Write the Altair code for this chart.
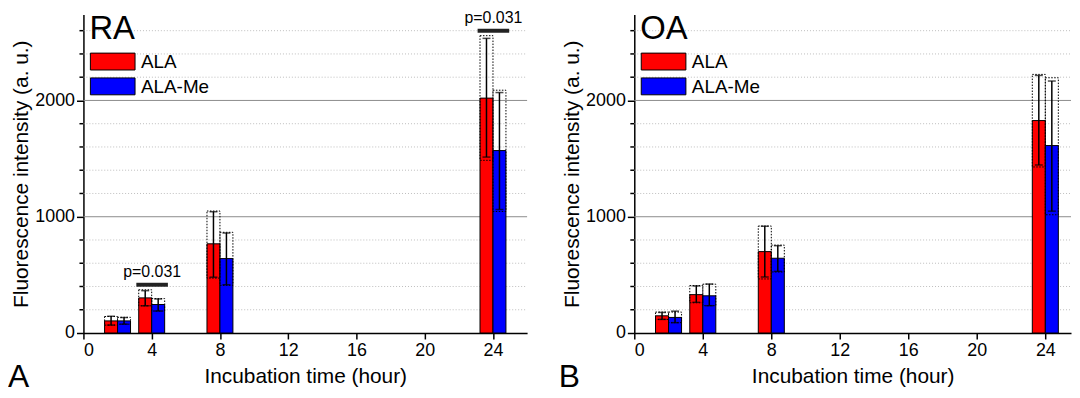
import altair as alt
import pandas as pd

# ---------------- data ----------------
times = [2, 4, 8, 24]
groups = ["ALA", "ALA-Me"]
colors = ["#ff0000", "#0000ff"]

# RA panel
ra_ala_mean = [104, 302, 767, 2020]
ra_ala_lo = [68, 234, 480, 1513]
ra_ala_hi = [144, 364, 1043, 2534]
ra_ala_box_lo = [68, 234, 472, 1485]
ra_ala_box_hi = [142, 372, 1049, 2557]
ra_me_mean = [104, 245, 640, 1569]
ra_me_lo = [76, 189, 415, 1062]
ra_me_hi = [133, 293, 860, 2068]
ra_me_box_lo = [76, 189, 410, 1045]
ra_me_box_hi = [135, 296, 866, 2088]
ra_sig_times = [4, 24]
ra_sig_values = [415, 2599]
ra_sig_labels = ["p=0.031", "p=0.031"]

# OA panel
oa_ala_mean = [148, 330, 700, 1827]
oa_ala_lo = [117, 264, 482, 1445]
oa_ala_hi = [177, 405, 918, 2215]
oa_ala_box_lo = [117, 260, 465, 1428]
oa_ala_box_hi = [180, 408, 920, 2224]
oa_me_mean = [134, 320, 643, 1612]
oa_me_lo = [89, 235, 530, 1048]
oa_me_hi = [188, 421, 751, 2167]
oa_me_box_lo = [89, 235, 525, 1017]
oa_me_box_hi = [180, 420, 756, 2195]

x_ticks = list(range(0, 27, 2))
y_major = [0, 1000, 2000]
y_minor = [v for v in range(200, 2700, 200) if v % 1000 != 0]

FONT = "Liberation Sans"
BAR_W = 0.76


def make_df(a_mean, a_lo, a_hi, a_blo, a_bhi, m_mean, m_lo, m_hi, m_blo, m_bhi):
    rows = []
    for i, t in enumerate(times):
        rows.append(dict(t=t, group="ALA", mean=a_mean[i], lo=a_lo[i], hi=a_hi[i],
                         blo=a_blo[i], bhi=a_bhi[i]))
        rows.append(dict(t=t, group="ALA-Me", mean=m_mean[i], lo=m_lo[i], hi=m_hi[i],
                         blo=m_blo[i], bhi=m_bhi[i]))
    return pd.DataFrame(rows)


def panel(df, sig_df, name, letter, width, height, xmax):
    xs = alt.Scale(domain=[0, xmax], nice=False, zero=False)
    ys = alt.Scale(domain=[0, 2740], nice=False)
    cs = alt.Scale(domain=groups, range=colors)
    xaxis = alt.Axis(
        values=[v for v in x_ticks if v <= xmax], grid=False, labelOverlap=False,
        labelExpr="datum.value % 4 === 0 ? datum.label : ''",
        tickSize={"condition": {"test": "datum.value % 4 === 0", "value": 6}, "value": 4},
        title="Incubation time (hour)", titleFontSize=21, labelFontSize=18,
        labelPadding=3, titlePadding=6,
    )
    yaxis = alt.Axis(
        values=y_major, format="d", labelOverlap=False, grid=False, tickSize=7,
        title="Fluorescence intensity (a. u.)", titleFontSize=21, labelFontSize=18,
        labelPadding=2, titlePadding=3,
    )
    minor_df = pd.DataFrame({"v": y_minor})
    major_df = pd.DataFrame({"v": y_major[1:]})
    minor_grid = alt.Chart(minor_df).mark_rule(
        color="#bdbdbd", strokeWidth=1, strokeDash=[1, 2]).encode(
        x=alt.value(0), x2=alt.value(width), y=alt.Y("v:Q", scale=ys, axis=yaxis))
    minor_ticks = alt.Chart(minor_df).mark_rule(color="black", strokeWidth=1.5).encode(
        x=alt.value(-4), x2=alt.value(0), y=alt.Y("v:Q", scale=ys, axis=yaxis))
    major_grid = alt.Chart(major_df).mark_rule(color="#8c8c8c", strokeWidth=1).encode(
        x=alt.value(0), x2=alt.value(width), y=alt.Y("v:Q", scale=ys, axis=yaxis))

    base = alt.Chart(df).transform_calculate(
        x0=f"datum.group === 'ALA' ? datum.t - {BAR_W} : datum.t",
        x1=f"datum.group === 'ALA' ? datum.t : datum.t + {BAR_W}",
        xc=f"datum.group === 'ALA' ? datum.t - {BAR_W / 2} : datum.t + {BAR_W / 2}",
    )
    bars = base.mark_rect(stroke="black", strokeWidth=1).encode(
        x=alt.X("x0:Q", scale=xs, axis=xaxis),
        x2="x1:Q",
        y=alt.Y("mean:Q", scale=ys, axis=yaxis),
        y2=alt.datum(0),
        color=alt.Color("group:N", scale=cs, legend=None),
    )
    boxes = base.mark_rect(fillOpacity=0, stroke="black", strokeWidth=1,
                           strokeDash=[1.5, 1.5]).encode(
        x="x0:Q", x2="x1:Q", y="blo:Q", y2="bhi:Q")
    err = base.mark_rule(color="black", strokeWidth=1.5).encode(
        x="xc:Q", y="lo:Q", y2="hi:Q")
    cap_lo = base.mark_tick(orient="horizontal", size=8, thickness=1.5, color="black").encode(
        x="xc:Q", y="lo:Q")
    cap_hi = base.mark_tick(orient="horizontal", size=8, thickness=1.5, color="black").encode(
        x="xc:Q", y="hi:Q")
    name_txt = alt.Chart(pd.DataFrame({"n": [name]})).mark_text(
        align="left", baseline="alphabetic", fontSize=33, font=FONT, color="black").encode(
        x=alt.value(6), y=alt.value(25), text="n:N")
    letter_txt = alt.Chart(pd.DataFrame({"n": [letter]})).mark_text(
        align="left", baseline="alphabetic", fontSize=32, font=FONT, color="black").encode(
        x=alt.value(-76), y=alt.value(height + 54), text="n:N")

    # legend (manual, two rows)
    leg_df = pd.DataFrame({"group": groups})
    legend_layers = []
    for i, g in enumerate(groups):
        row = alt.Chart(leg_df).transform_filter(f"datum.group === '{g}'")
        top = 39 + 25 * i
        legend_layers.append(row.mark_rect(stroke="black", strokeWidth=1).encode(
            x=alt.value(7), x2=alt.value(52), y=alt.value(top), y2=alt.value(top + 17),
            color=alt.Color("group:N", scale=cs, legend=None)))
        legend_layers.append(row.mark_text(
            align="left", baseline="middle", fontSize=19, font=FONT, color="black").encode(
            x=alt.value(58), y=alt.value(top + 9), text="group:N"))

    layers = [minor_grid, major_grid, minor_ticks, bars, boxes, err, cap_lo, cap_hi,
              name_txt, letter_txt] + legend_layers
    if sig_df is not None:
        sbase = alt.Chart(sig_df).transform_calculate(
            s0="datum.t - 0.9", s1="datum.t + 0.95", sc="datum.t + 0.025")
        layers.append(sbase.mark_rule(color="#222", strokeWidth=4).encode(
            x="s0:Q", x2="s1:Q", y="y:Q"))
        layers.append(sbase.mark_text(fontSize=16, font=FONT, dy=-8, baseline="alphabetic",
                                      color="black").encode(x="sc:Q", y="y:Q", text="label:N"))
    return alt.layer(*layers).properties(width=width, height=height)


ra_df = make_df(ra_ala_mean, ra_ala_lo, ra_ala_hi, ra_ala_box_lo, ra_ala_box_hi,
                ra_me_mean, ra_me_lo, ra_me_hi, ra_me_box_lo, ra_me_box_hi)
oa_df = make_df(oa_ala_mean, oa_ala_lo, oa_ala_hi, oa_ala_box_lo, oa_ala_box_hi,
                oa_me_mean, oa_me_lo, oa_me_hi, oa_me_box_lo, oa_me_box_hi)
ra_sig = pd.DataFrame({"t": ra_sig_times, "y": ra_sig_values, "label": ra_sig_labels})

left = panel(ra_df, ra_sig, "RA", "A", 447, 321, 26)
right = panel(oa_df, None, "OA", "B", 440, 321, 25.5)

chart = alt.hconcat(left, right, spacing=31).properties(
    padding={"left": 0, "top": 0, "right": 0, "bottom": 0}
).configure(font=FONT).configure_view(stroke=None).configure_axis(
    domainColor="black", domainWidth=1.5, tickColor="black", tickWidth=1.5,
    labelColor="black", titleColor="black", titleFontWeight="normal",
    labelFont=FONT, titleFont=FONT,
)

chart.save("out.html", embed_options={"renderer": "svg", "actions": False})
